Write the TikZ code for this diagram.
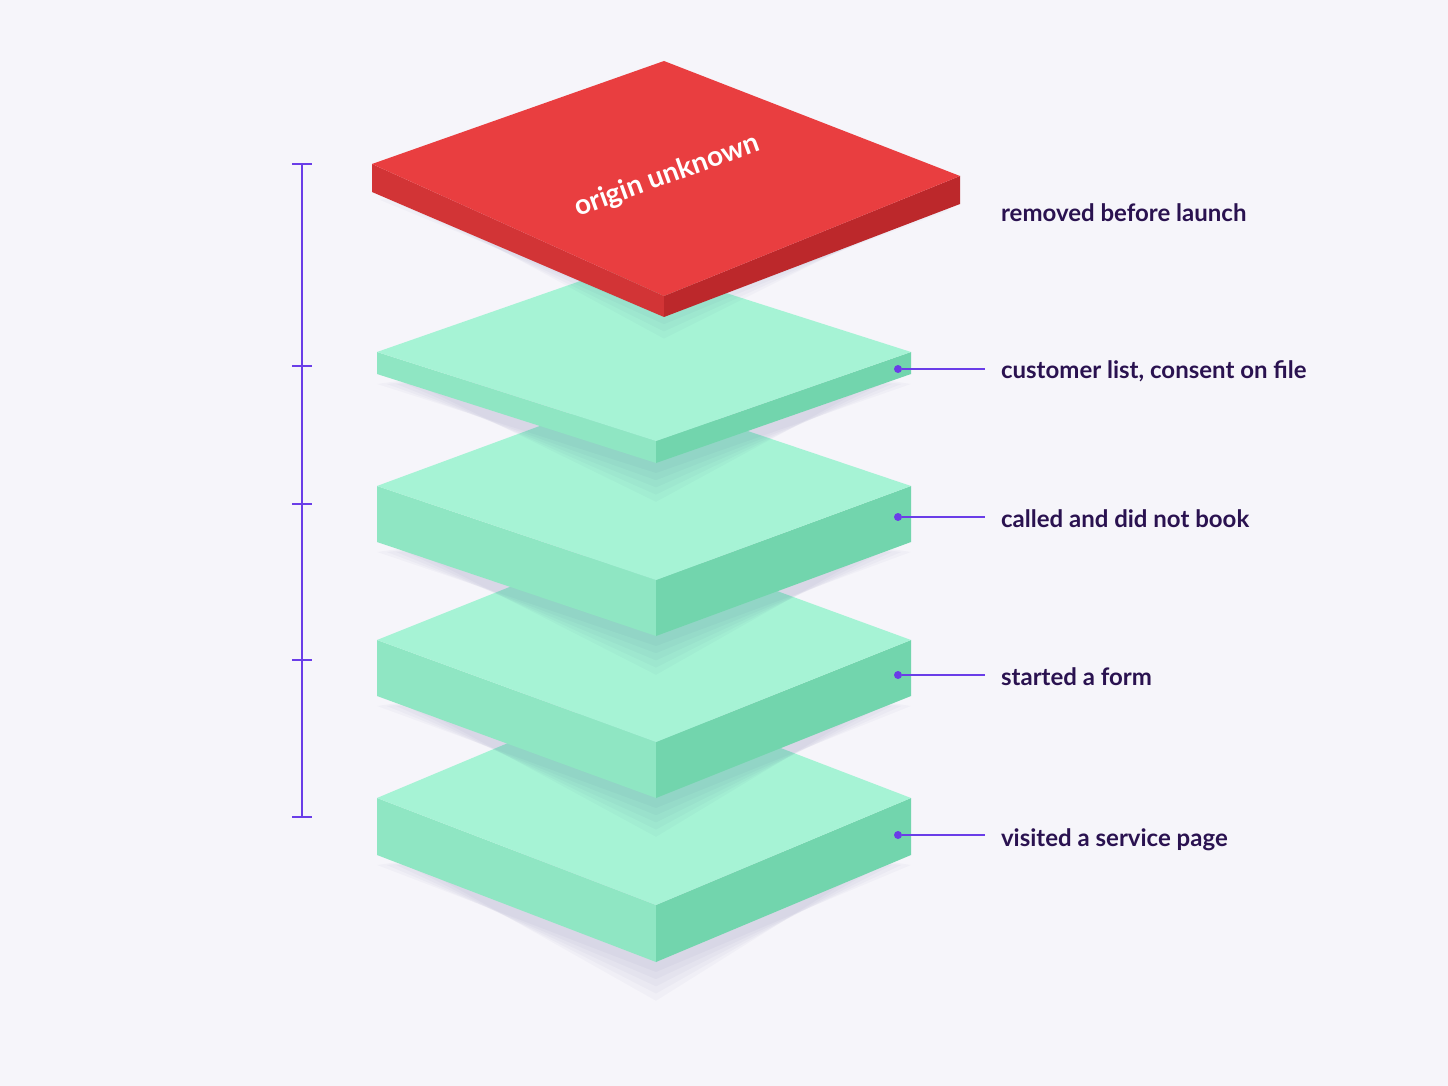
\documentclass[tikz,border=0pt]{standalone}
\usepackage{fontspec}
\setmainfont{Lato}
\begin{document}
\begin{tikzpicture}[x=0.5pt,y=-0.5pt,
  lbl/.style={anchor=west,text=labc,font=\bfseries\fontsize{12}{14}\selectfont},
  lead/.style={draw=linec,line width=1pt},
  dot/.style={circle,fill=linec,inner sep=0pt,minimum size=4pt},
  shd/.style={fill=black!60!blue,opacity=0.022}]
\definecolor{bgc}{HTML}{F6F5FA}
\definecolor{labc}{HTML}{2A1250}
\definecolor{linec}{HTML}{6A3DE8}
\definecolor{gtop}{HTML}{A6F3D5}
\definecolor{gleft}{HTML}{8FE6C3}
\definecolor{gright}{HTML}{72D5AD}
\definecolor{rtop}{HTML}{E93E40}
\definecolor{rleft}{HTML}{D23436}
\definecolor{rright}{HTML}{BC282B}
\fill[bgc] (0,0) rectangle (1448,1086);
\newcommand{\myslab}[4]{%
  \foreach \s in {0,8,16,24,32} {
    \fill[shd] (377+\s*1.2,#1+#3+10) -- (656,#2+#3+10+\s*0.9) -- (911-\s*1.2,#1+#3+10) -- (656,#1+#3-30+\s) -- cycle;}
  \fill[#4left] (377,#1) -- (656,#2) -- (656,#2+#3) -- (377,#1+#3) -- cycle;
  \fill[#4right] (656,#2) -- (911,#1) -- (911,#1+#3) -- (656,#2+#3) -- cycle;
  \fill[#4top] (377,#1) -- (656,#2) -- (911,#1) -- (632,#1-#2+#1) -- cycle;}
\myslab{798}{905}{57}{g}
\myslab{640}{742}{56}{g}
\myslab{486}{580}{56}{g}
\myslab{352}{441}{22}{g}
% red slab
\foreach \s in {0,8,16,24} {
  \fill[shd] (380+\s*1.2,200) -- (664,317+\s*0.9) -- (950-\s*1.2,210) -- (664,150+\s) -- cycle;}
\fill[rleft] (372,164) -- (664,296) -- (664,317) -- (372,192) -- cycle;
\fill[rright] (664,296) -- (960,176) -- (960,204) -- (664,317) -- cycle;
\fill[rtop] (372,164) -- (664,61) -- (960,176) -- (664,296) -- cycle;
\node[text=white,rotate=20,inner sep=0pt,font=\bfseries\fontsize{14}{16}\selectfont] (o) at (667,176) {origin unknown};
% bracket
\draw[linec,line width=1pt] (302,164) -- (302,817);
\foreach \y in {164,366,504,660,817} \draw[linec,line width=1pt] (292,\y) -- (312,\y);
% labels
\node[lbl] (l0) at (994,213) {removed before launch};
\node[lbl] (l1) at (994,371) {customer list, consent on file};
\node[lbl] (l2) at (994,519) {called and did not book};
\node[lbl] (l3) at (994,677) {started a form};
\node[lbl] (l4) at (994,840) {visited a service page};
\node[dot] (d1) at (898,369) {};
\node[dot] (d2) at (898,517) {};
\node[dot] (d3) at (898,675) {};
\node[dot] (d4) at (898,835) {};
\coordinate (e1) at (985,369);\coordinate (e2) at (985,517);
\coordinate (e3) at (985,675);\coordinate (e4) at (985,835);
\foreach \i in {1,2,3,4} \draw[lead] (d\i) -- (e\i);
\end{tikzpicture}
\end{document}
